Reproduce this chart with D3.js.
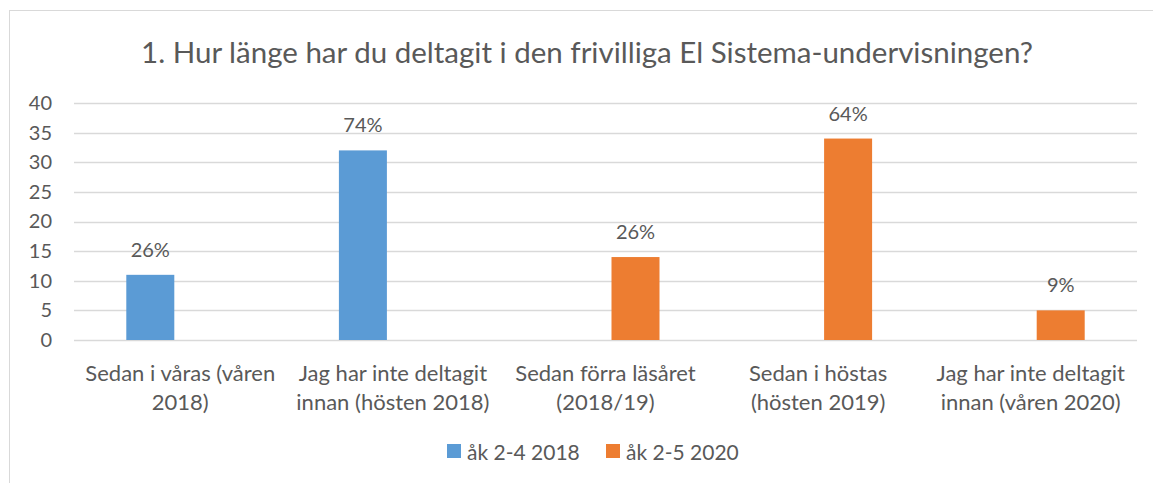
<!DOCTYPE html>
<html>
<head>
<meta charset="utf-8">
<script src="https://cdn.jsdelivr.net/npm/d3@7"></script>
<style>
    body { margin: 0; background: #fff; }
    text { font-family: Lato, "Open Sans", sans-serif; fill: #595959; }
</style>
</head>
<body>
<script>
var title = '1. Hur länge har du deltagit i den frivilliga El Sistema-undervisningen?';
var categories = [
    'Sedan i våras (våren 2018)',
    'Jag har inte deltagit innan (hösten 2018)',
    'Sedan förra läsåret (2018/19)',
    'Sedan i höstas (hösten 2019)',
    'Jag har inte deltagit innan (våren 2020)'
];
var seriesNames = ['åk 2-4 2018', 'åk 2-5 2020'];
var colors = ['#5B9BD5', '#ED7D31'];
// one value per category, null = no bar
var values2018 = [11, 32, null, null, null];
var values2020 = [null, null, 14, 34, 5];
var labels2018 = ['26%', '74%', null, null, null];
var labels2020 = [null, null, '26%', '64%', '9%'];
var yTicks = [0, 5, 10, 15, 20, 25, 30, 35, 40];

// split the long category names on two lines like the original
var catLines = [
    ['Sedan i våras (våren', '2018)'],
    ['Jag har inte deltagit', 'innan (hösten 2018)'],
    ['Sedan förra läsåret', '(2018/19)'],
    ['Sedan i höstas', '(hösten 2019)'],
    ['Jag har inte deltagit', 'innan (våren 2020)']
];

var w = 1153, h = 483;
var margin = { top: 103, right: 16, bottom: 143, left: 74 };

var svg = d3.select('body')
    .append('svg')
    .attr('width', w)
    .attr('height', h);

// chart frame (only top and left edges are inside the picture)
svg.append('rect')
    .attr('x', 9.5).attr('y', 10.5)
    .attr('width', w + 20).attr('height', h + 20)
    .attr('fill', 'none')
    .attr('stroke', '#D9D9D9');

svg.append('text')
    .attr('x', 587).attr('y', 63)
    .attr('text-anchor', 'middle')
    .style('font-size', '29.5px')
    .text(title);

var x0 = d3.scaleBand()
    .domain(categories)
    .range([margin.left, w - margin.right]);

var pad = (x0.bandwidth() - 108) / 2;
var x1 = d3.scaleBand()
    .domain(seriesNames)
    .range([pad, x0.bandwidth() - pad])
    .paddingInner(0.2);

var y = d3.scaleLinear()
    .domain([0, 40])
    .range([h - margin.bottom, margin.top]);

// gridlines
svg.append('g')
    .selectAll('line')
    .data(yTicks)
    .enter()
    .append('line')
    .attr('x1', margin.left).attr('x2', w - margin.right)
    .attr('y1', function (d) { return Math.round(y(d)) + 0.5; })
    .attr('y2', function (d) { return Math.round(y(d)) + 0.5; })
    .attr('stroke', '#D9D9D9')
    .attr('stroke-width', 1.5);

// y axis labels
var yAxis = d3.axisLeft(y).tickValues(yTicks).tickSize(0).tickPadding(22);
svg.append('g')
    .attr('transform', 'translate(' + margin.left + ',0)')
    .call(yAxis)
    .call(function (g) {
        g.select('.domain').remove();
        g.selectAll('text')
            .style('font-family', 'Lato, sans-serif')
            .style('font-size', '20px')
            .attr('fill', '#595959');
    });

var seriesData = [
    { name: seriesNames[0], values: values2018, labels: labels2018, color: colors[0] },
    { name: seriesNames[1], values: values2020, labels: labels2020, color: colors[1] }
];

seriesData.forEach(function (s) {
    var pts = categories.map(function (c, i) {
        return { cat: c, value: s.values[i], label: s.labels[i] };
    }).filter(function (d) { return d.value !== null; });

    var g = svg.append('g').attr('class', 'series');

    g.selectAll('rect')
        .data(pts)
        .enter()
        .append('rect')
        .attr('x', function (d) { return x0(d.cat) + x1(s.name); })
        .attr('y', function (d) { return y(d.value); })
        .attr('width', x1.bandwidth())
        .attr('height', function (d) { return y(0) - y(d.value); })
        .attr('fill', s.color);

    g.selectAll('text')
        .data(pts)
        .enter()
        .append('text')
        .attr('x', function (d) { return x0(d.cat) + x1(s.name) + x1.bandwidth() / 2; })
        .attr('y', function (d) { return y(d.value) - 18; })
        .attr('text-anchor', 'middle')
        .style('font-size', '20px')
        .text(function (d) { return d.label; });
});

// category labels
var catG = svg.append('g')
    .selectAll('text')
    .data(categories)
    .enter()
    .append('text')
    .attr('text-anchor', 'middle')
    .style('font-size', '22px')
    .attr('x', function (d) { return x0(d) + x0.bandwidth() / 2; })
    .attr('y', 381);

catG.selectAll('tspan')
    .data(function (d, i) { return catLines[i]; })
    .enter()
    .append('tspan')
    .attr('x', function () { return d3.select(this.parentNode).attr('x'); })
    .attr('dy', function (d, i) { return i === 0 ? 0 : 29; })
    .text(function (d) { return d; });

// legend
var legendX = [447, 606];
var legend = svg.append('g')
    .selectAll('g')
    .data(seriesData)
    .enter()
    .append('g')
    .attr('transform', function (d, i) { return 'translate(' + legendX[i] + ',444)'; });

legend.append('rect')
    .attr('width', 14).attr('height', 14)
    .attr('fill', function (d) { return d.color; });

legend.append('text')
    .attr('x', 20).attr('y', 16)
    .style('font-size', '21px')
    .text(function (d) { return d.name; });
</script>
</body>
</html>
